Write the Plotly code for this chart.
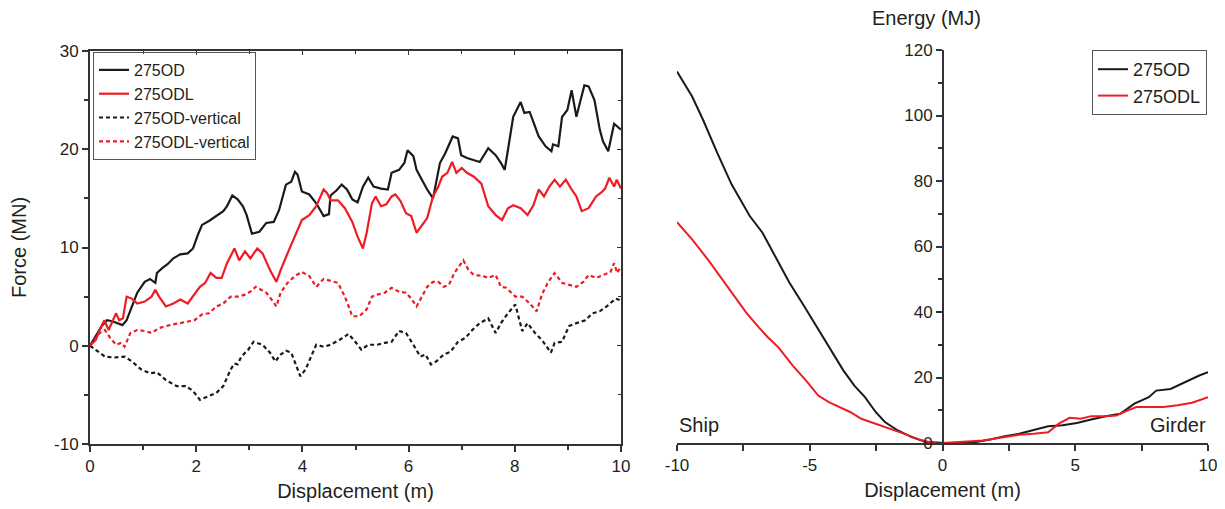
import plotly.graph_objects as go

# ---------------- Data: Force vs displacement (left) ----------------
od_x = [0, 0.11, 0.22, 0.32, 0.42, 0.52, 0.61, 0.69, 0.79, 0.89, 1.03, 1.13, 1.23, 1.26, 1.36, 1.46, 1.57, 1.70, 1.84, 1.94,
        2.04, 2.11, 2.24, 2.38, 2.51, 2.58, 2.68, 2.78, 2.88, 2.95, 3.05, 3.19, 3.32, 3.46, 3.56, 3.69, 3.79, 3.86, 3.91, 3.99,
        4.13, 4.26, 4.40, 4.50, 4.53, 4.64, 4.74, 4.84, 4.94, 5.04, 5.14, 5.24, 5.34, 5.48, 5.61, 5.68, 5.82, 5.92, 5.98, 6.09,
        6.15, 6.25, 6.35, 6.46, 6.52, 6.59, 6.69, 6.83, 6.93, 6.99, 7.10, 7.23, 7.34, 7.50, 7.64, 7.74, 7.81, 7.87, 7.97, 8.11,
        8.18, 8.28, 8.35, 8.45, 8.58, 8.69, 8.72, 8.82, 8.89, 8.99, 9.07, 9.16, 9.23, 9.31, 9.39, 9.50, 9.60, 9.66, 9.76, 9.87, 10.0]
od_y = [0, 0.95, 2.0, 2.6, 2.5, 2.3, 2.1, 2.6, 4.0, 5.4, 6.5, 6.8, 6.4, 7.4, 7.9, 8.3, 8.9, 9.3, 9.4, 9.9,
        11.4, 12.3, 12.7, 13.2, 13.7, 14.2, 15.3, 14.9, 14.2, 13.3, 11.4, 11.6, 12.5, 12.6, 13.8, 16.4, 16.7, 17.7, 17.4, 15.7,
        15.4, 14.5, 13.2, 13.4, 15.3, 15.8, 16.4, 15.9, 14.9, 14.6, 16.2, 17.1, 16.2, 16.0, 15.9, 17.6, 17.9, 18.6, 19.9, 19.3,
        17.9, 16.9, 15.9, 15.0, 16.5, 18.6, 19.6, 21.3, 21.1, 19.4, 19.1, 18.9, 18.7, 20.1, 19.4, 18.6, 17.9, 19.9, 23.3, 24.8,
        23.7, 23.8, 22.8, 21.3, 20.3, 19.8, 20.5, 20.3, 23.3, 24.0, 26.0, 23.3, 24.8, 26.5, 26.4, 25.0, 22.0, 20.8, 19.8, 22.6, 22.0]

odl_x = [0, 0.11, 0.18, 0.27, 0.35, 0.42, 0.49, 0.55, 0.62, 0.69, 0.79, 0.89, 1.03, 1.16, 1.23, 1.30, 1.43, 1.57, 1.70, 1.84,
         1.97, 2.07, 2.17, 2.27, 2.38, 2.48, 2.58, 2.72, 2.81, 2.92, 3.02, 3.15, 3.25, 3.39, 3.51, 3.59, 3.72, 3.86, 3.99, 4.13,
         4.26, 4.40, 4.47, 4.53, 4.67, 4.80, 4.94, 5.04, 5.14, 5.21, 5.31, 5.38, 5.48, 5.58, 5.68, 5.75, 5.85, 5.95, 6.05, 6.15,
         6.25, 6.35, 6.46, 6.56, 6.63, 6.73, 6.82, 6.90, 7.00, 7.10, 7.23, 7.37, 7.50, 7.64, 7.76, 7.87, 7.97, 8.11, 8.24, 8.35,
         8.45, 8.55, 8.65, 8.75, 8.85, 8.96, 9.06, 9.16, 9.26, 9.39, 9.53, 9.63, 9.70, 9.78, 9.87, 9.92, 10.0]
odl_y = [0, 0.6, 1.6, 2.6, 1.6, 2.5, 3.3, 2.6, 2.8, 5.0, 4.8, 4.3, 4.5, 5.0, 5.7, 5.0, 4.0, 4.3, 4.7, 4.3,
         5.2, 6.0, 6.4, 7.4, 6.9, 6.9, 8.4, 9.9, 8.7, 9.6, 8.9, 9.9, 9.4, 7.7, 6.5, 7.7, 9.4, 11.1, 12.8, 13.3,
         14.2, 15.9, 15.5, 14.8, 14.8, 14.0, 12.6, 11.1, 9.9, 11.5, 14.5, 15.2, 14.2, 14.4, 15.2, 15.4, 14.7, 13.5, 13.2, 11.5,
         12.2, 13.0, 15.2, 16.2, 17.2, 17.6, 18.7, 17.6, 18.1, 17.6, 17.2, 16.5, 14.2, 13.3, 12.8, 14.0, 14.3, 14.0, 13.3, 14.3,
         15.9, 15.2, 16.2, 16.9, 16.2, 16.9, 16.0, 15.2, 13.7, 14.0, 15.2, 15.6, 16.0, 17.1, 16.2, 16.9, 16.0]

odv_x = [0, 0.15, 0.28, 0.45, 0.65, 0.79, 0.96, 1.13, 1.26, 1.43, 1.63, 1.80, 1.94, 2.07, 2.24, 2.38, 2.51, 2.65, 2.72, 2.78,
         2.85, 2.98, 3.08, 3.25, 3.39, 3.49, 3.59, 3.69, 3.79, 3.89, 3.96, 4.06, 4.16, 4.26, 4.40, 4.53, 4.70, 4.87, 5.01, 5.11,
         5.24, 5.41, 5.55, 5.68, 5.82, 5.95, 6.09, 6.22, 6.32, 6.42, 6.52, 6.66, 6.79, 6.93, 7.07, 7.20, 7.34, 7.50, 7.64, 7.74,
         7.87, 8.01, 8.14, 8.24, 8.38, 8.51, 8.68, 8.75, 8.89, 9.02, 9.16, 9.33, 9.46, 9.60, 9.73, 9.90, 10.0]
odv_y = [0, -0.6, -1.1, -1.2, -1.1, -1.6, -2.4, -2.8, -2.7, -3.5, -4.1, -4.1, -4.6, -5.5, -5.1, -4.8, -4.1, -2.4, -1.8, -1.9,
         -1.1, -0.4, 0.4, 0.1, -0.7, -1.6, -0.9, -0.5, -0.7, -2.1, -3.1, -2.4, -1.1, 0.1, -0.1, 0.1, 0.6, 1.2, 0.3, -0.4,
         0.1, 0.1, 0.3, 0.4, 1.5, 1.3, 0.1, -1.1, -0.9, -1.9, -1.6, -0.9, -0.6, 0.4, 0.8, 1.6, 2.3, 2.8, 1.3, 2.3,
         3.3, 4.2, 1.5, 2.3, 1.3, 0.6, -0.7, 0.3, 0.4, 2.0, 2.3, 2.6, 3.3, 3.5, 4.0, 4.8, 4.6]

odlv_x = [0, 0.11, 0.18, 0.28, 0.38, 0.49, 0.59, 0.65, 0.76, 0.89, 1.03, 1.16, 1.30, 1.50, 1.70, 1.87, 1.97, 2.11, 2.24, 2.38,
          2.51, 2.65, 2.78, 2.92, 3.02, 3.12, 3.22, 3.32, 3.42, 3.51, 3.59, 3.72, 3.86, 3.99, 4.13, 4.26, 4.40, 4.53, 4.67, 4.80,
          4.94, 5.07, 5.21, 5.31, 5.41, 5.55, 5.68, 5.82, 5.95, 6.05, 6.15, 6.25, 6.35, 6.46, 6.56, 6.66, 6.76, 6.86, 7.03, 7.13,
          7.23, 7.40, 7.50, 7.64, 7.74, 7.84, 8.01, 8.14, 8.28, 8.41, 8.51, 8.62, 8.75, 8.89, 9.02, 9.16, 9.29, 9.39, 9.53, 9.66,
          9.80, 9.87, 9.93, 10.0]
odlv_y = [0, 0.8, 1.3, 1.6, 0.8, 0.1, 0.3, -0.1, 1.3, 1.6, 1.5, 1.3, 1.8, 2.1, 2.3, 2.5, 2.6, 3.2, 3.3, 4.0,
          4.3, 5.0, 5.0, 5.2, 5.5, 6.0, 5.7, 5.4, 4.7, 4.0, 5.4, 6.4, 7.1, 7.5, 7.1, 6.0, 6.8, 6.6, 6.4, 5.0,
          3.0, 3.0, 3.7, 5.0, 5.2, 5.4, 5.9, 5.5, 5.4, 4.8, 4.0, 5.0, 6.0, 6.5, 6.5, 6.0, 6.2, 7.4, 8.7, 7.7,
          7.2, 7.1, 6.9, 7.2, 6.0, 5.9, 5.0, 5.0, 4.3, 3.5, 5.2, 6.4, 7.4, 6.4, 6.2, 6.0, 6.5, 7.2, 6.9, 7.2,
          7.5, 8.4, 7.4, 8.1]

# ---------------- Data: Energy vs displacement (right) ----------------
e_od_x = [-10, -9.43, -9.02, -8.48, -7.94, -7.26, -6.78, -6.31, -5.77, -5.22, -4.68, -4.21, -3.73, -3.32, -2.92, -2.51, -2.17,
          -1.70, -1.16, -0.62, 0, 0.58, 1.26, 1.80, 2.35, 2.89, 3.43, 3.98, 4.52, 5.06, 5.60, 6.15, 6.69, 7.23, 7.77, 8.05,
          8.59, 9.13, 9.67, 10.0]
e_od_y = [113.4, 105.8, 98.7, 88.5, 78.9, 69.3, 64.2, 57.1, 49.0, 41.9, 34.8, 28.7, 22.1, 17.5, 14.0, 9.4, 6.4,
          3.9, 1.8, 0.3, 0, 0, 0.3, 1.1, 2.1, 2.8, 3.9, 5.1, 5.4, 6.1, 7.2, 8.2, 8.9, 12.0, 14.0, 16.0,
          16.5, 18.6, 20.6, 21.6]

e_odl_x = [-10, -9.43, -8.75, -7.94, -7.40, -6.92, -6.58, -6.18, -5.64, -5.09, -4.68, -4.28, -3.87, -3.46, -3.06, -2.51, -1.97,
           -1.43, -0.89, -0.50, 0, 0.72, 1.53, 2.35, 2.89, 3.43, 3.98, 4.38, 4.79, 5.20, 5.60, 6.15, 6.55, 6.96, 7.30, 7.77,
           8.32, 8.86, 9.40, 10.0]
e_odl_y = [67.4, 62.2, 55.1, 45.9, 39.9, 35.3, 32.3, 29.2, 23.6, 18.6, 14.5, 12.5, 11.0, 9.4, 7.4, 5.9, 4.4,
           2.8, 1.1, 0.3, 0, 0.3, 0.8, 1.8, 2.5, 2.8, 3.3, 5.9, 7.7, 7.4, 8.2, 8.2, 8.4, 9.9, 11.0, 11.0,
           11.0, 11.5, 12.3, 14.0]

# ---------------- Tick labels ----------------
force_ticks = [-10, 0, 10, 20, 30]
force_ticktext = ["-10", "0", "10", "20", "30"]
disp_ticks = [0, 2, 4, 6, 8, 10]
sym_disp_ticks = [-10, -5, 0, 5, 10]
sym_disp_ticktext = ["-10", "-5", "0", "5", "10"]
energy_ticks = [0, 20, 40, 60, 80, 100, 120]

# ---------------- Figure ----------------
FONT = "Liberation Sans, Arial, sans-serif"
TXT = "#231f20"
AX = "#333333"
W, H = 1225, 509
OFF = 8  # page body margin in the browser


def px_x(p):
    return (p - OFF) / W


def px_y(p):
    return (H - (p - OFF)) / H


fig = go.Figure()

fig.add_trace(go.Scatter(x=od_x, y=od_y, mode="lines", name="275OD",
                         line=dict(color="#1a1a1a", width=2.2), xaxis="x", yaxis="y", legend="legend"))
fig.add_trace(go.Scatter(x=odl_x, y=odl_y, mode="lines", name="275ODL",
                         line=dict(color="#ee1c25", width=2.2), xaxis="x", yaxis="y", legend="legend"))
fig.add_trace(go.Scatter(x=odv_x, y=odv_y, mode="lines", name="275OD-vertical",
                         line=dict(color="#1a1a1a", width=2.2, dash="4px,3px"), xaxis="x", yaxis="y", legend="legend"))
fig.add_trace(go.Scatter(x=odlv_x, y=odlv_y, mode="lines", name="275ODL-vertical",
                         line=dict(color="#ee1c25", width=2.2, dash="4px,3px"), xaxis="x", yaxis="y", legend="legend"))

fig.add_trace(go.Scatter(x=e_od_x, y=e_od_y, mode="lines", name="275OD",
                         line=dict(color="#1a1a1a", width=2), xaxis="x2", yaxis="y2", legend="legend2"))
fig.add_trace(go.Scatter(x=e_odl_x, y=e_odl_y, mode="lines", name="275ODL",
                         line=dict(color="#ee1c25", width=2), xaxis="x2", yaxis="y2", legend="legend2"))

# empty trace so the mirrored-tick overlay axes render
fig.add_trace(go.Scatter(x=[None], y=[None], xaxis="x3", yaxis="y3", showlegend=False, hoverinfo="skip"))

tickfont = dict(family=FONT, size=17, color=TXT)
titlefont = dict(family=FONT, size=20, color=TXT)

left_xdom = [px_x(90), px_x(621)]
left_ydom = [px_y(444), px_y(51)]
right_xdom = [px_x(677), px_x(1208)]
right_ydom = [px_y(443), px_y(50)]

common = dict(showgrid=False, zeroline=False, automargin=False)

fig.update_layout(
    width=W, height=H,
    margin=dict(l=0, r=0, t=0, b=0, autoexpand=False),
    paper_bgcolor="white", plot_bgcolor="white",
    font=dict(family=FONT, color=TXT),
    xaxis=dict(domain=left_xdom, anchor="y", range=[0, 10], tickvals=disp_ticks,
               showline=True, linecolor=AX, linewidth=2, mirror=True,
               ticks="outside", ticklen=6, tickwidth=1.5, tickcolor=AX,
               minor=dict(dtick=1, ticks="outside", ticklen=4, tickcolor=AX, tickwidth=1.5),
               tickfont=tickfont,
               title=dict(text="Displacement (m)", font=titlefont, standoff=9), **common),
    yaxis=dict(domain=left_ydom, anchor="x", range=[-10, 30], tickvals=force_ticks, ticktext=force_ticktext,
               showline=True, linecolor=AX, linewidth=2, mirror=True,
               ticks="outside", ticklen=6, tickwidth=1.5, tickcolor=AX,
               minor=dict(dtick=5, ticks="outside", ticklen=4, tickcolor=AX, tickwidth=1.5),
               tickfont=tickfont,
               title=dict(text="Force (MN)", font=titlefont, standoff=22), **common),
    xaxis3=dict(overlaying="x", anchor="y", side="top", range=[0, 10], tickvals=disp_ticks,
                ticks="inside", ticklen=4, tickwidth=1, tickcolor=AX, showticklabels=False,
                minor=dict(dtick=1, ticks="inside", ticklen=3, tickcolor=AX),
                showline=False, **common),
    yaxis3=dict(overlaying="y", anchor="x", side="right", range=[-10, 30], tickvals=force_ticks,
                ticks="inside", ticklen=4, tickwidth=1, tickcolor=AX, showticklabels=False,
                minor=dict(dtick=5, ticks="inside", ticklen=3, tickcolor=AX),
                showline=False, **common),
    xaxis2=dict(domain=right_xdom, anchor="y2", range=[-10, 10], tickvals=sym_disp_ticks,
                ticktext=sym_disp_ticktext,
                showline=True, linecolor=AX, linewidth=2,
                ticks="outside", ticklen=6, tickwidth=1.5, tickcolor=AX,
                minor=dict(dtick=2.5, ticks="outside", ticklen=6, tickcolor=AX, tickwidth=1.5),
                tickfont=tickfont,
                title=dict(text="Displacement (m)", font=titlefont, standoff=9), **common),
    yaxis2=dict(domain=right_ydom, anchor="free", position=px_x(943), range=[0, 120], tickvals=energy_ticks,
                showline=True, linecolor=AX, linewidth=2,
                ticks="outside", ticklen=6, tickwidth=1.5, tickcolor=AX,
                minor=dict(dtick=10, ticks="outside", ticklen=4, tickcolor=AX, tickwidth=1.5),
                tickfont=tickfont, **common),
    legend=dict(x=px_x(93), y=px_y(52), xanchor="left", yanchor="top",
                bordercolor="#555555", borderwidth=1, bgcolor="rgba(255,255,255,0)",
                font=dict(family=FONT, size=16, color=TXT),
                tracegroupgap=0, itemwidth=30),
    legend2=dict(x=px_x(1092), y=px_y(50), xanchor="left", yanchor="top",
                 bordercolor="#555555", borderwidth=1, bgcolor="rgba(255,255,255,0)",
                 font=dict(family=FONT, size=18, color=TXT),
                 tracegroupgap=0, itemwidth=30),
    showlegend=True,
    annotations=[
        dict(text="Energy (MJ)", x=px_x(926), y=px_y(18), xref="paper", yref="paper",
             showarrow=False, font=titlefont, xanchor="center", yanchor="middle"),
        dict(text="Ship", x=-10, y=5.5, xref="x2", yref="y2", showarrow=False,
             font=dict(family=FONT, size=20, color=TXT), xanchor="left", yanchor="middle"),
        dict(text="Girder", x=10, y=5.5, xref="x2", yref="y2", showarrow=False,
             font=dict(family=FONT, size=20, color=TXT), xanchor="right", yanchor="middle"),
    ],
)

fig.write_html("out.html")
